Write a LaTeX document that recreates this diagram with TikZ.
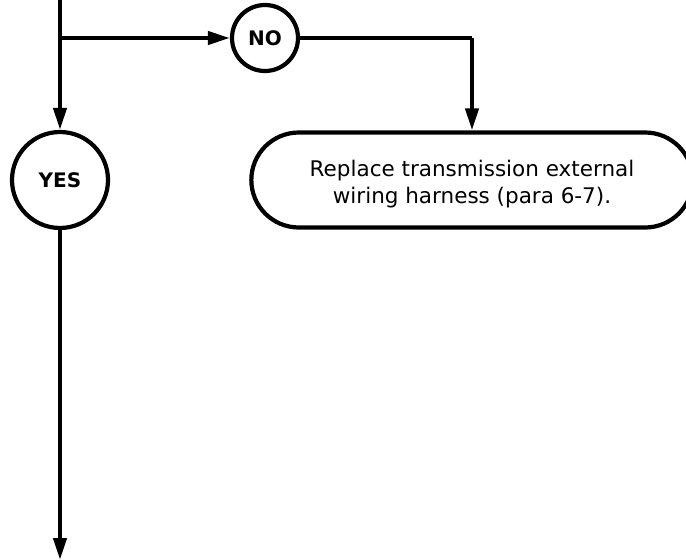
\documentclass[tikz,border=0pt]{standalone}
\usepackage{fontspec}
\setmainfont{DejaVu Sans}
\usetikzlibrary{arrows.meta,shapes.misc}
\begin{document}
\begin{tikzpicture}[x=1pt,y=-1pt,
  flow/.style={line width=4.2pt,-{Triangle[length=22pt,width=13pt]}},
  plain/.style={line width=4.2pt},
  decision/.style={circle,draw,line width=4.2pt,inner sep=0pt,font=\fontsize{20}{24}\selectfont\bfseries},
  action/.style={rounded rectangle,draw,line width=4.2pt,minimum width=448pt,minimum height=95pt,align=center,font=\fontsize{21.5}{27}\selectfont}]
  \useasboundingbox (0,0) rectangle (686,560);
  \clip (0,0) rectangle (686,560);
  \coordinate (top) at (60,-5);
  \coordinate (split) at (60,38);
  \coordinate (corner) at (472,38);
  \coordinate (bottom) at (60,560);
  \node[decision,minimum size=66pt] (no) at (265,38) {NO};
  \node[decision,minimum size=96pt] (yes) at (60,180) {YES};
  \node[action] (fix) at (472,180) {};
  \node[align=center,font=\fontsize{21.5}{27}\selectfont,inner sep=0pt] (fixtext) at (472,184)
    {Replace transmission external\\wiring harness (para 6-7).};
  \draw[flow] (top) -- (yes.north);
  \draw[flow] (split) -- (no.west);
  \draw[plain] (no.east) -- (corner);
  \draw[flow] (corner) -- (fix.north);
  \draw[flow] (yes.south) -- (bottom);
\end{tikzpicture}
\end{document}
